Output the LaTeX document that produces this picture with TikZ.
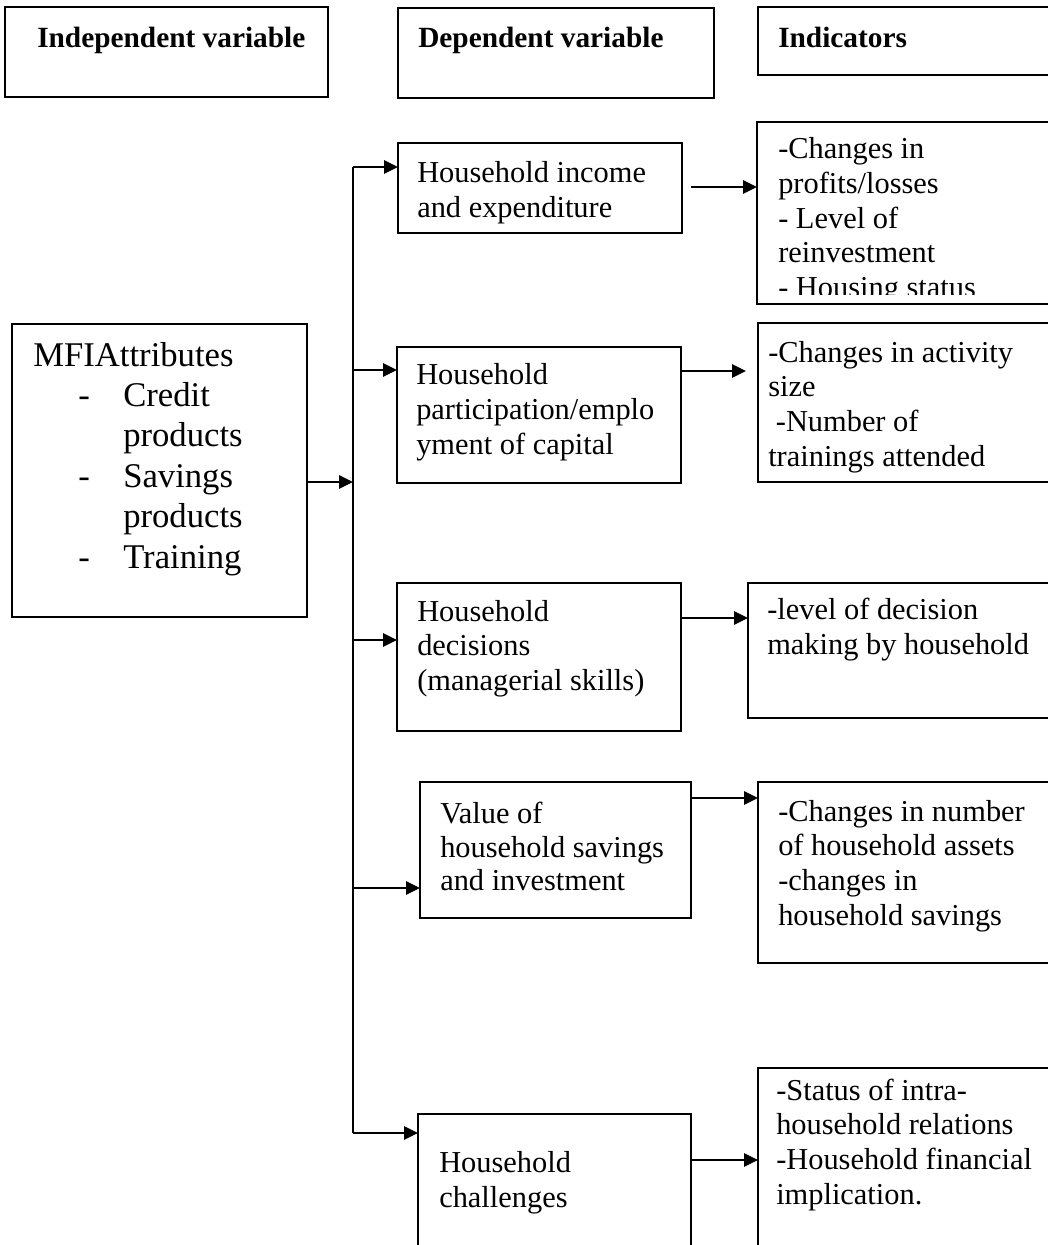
\documentclass[tikz,border=0pt]{standalone}
\usepackage{fontspec}
\setmainfont{Liberation Serif}
\usetikzlibrary{arrows.meta}
\newcommand{\px}{0.75pt}

\begin{document}
\begin{tikzpicture}[x=\px, y=-\px,
    box/.style={draw, line width=1.3pt, rectangle, anchor=north west, inner sep=0pt, outer sep=0pt},
    txt/.style={anchor=base west, align=left, inner sep=0pt, font=\fontsize{22.8}{26}\selectfont},
    hdr/.style={txt, font=\fontsize{22}{26}\selectfont\bfseries},
    big/.style={anchor=base west, align=left, inner sep=0pt, font=\fontsize{26}{30.3}\selectfont},
    arr/.style={line width=1.3pt, -{Triangle[length=10.5pt, width=10pt]}}]
    \useasboundingbox (0,0) rectangle (1048,1245);
    \clip (0,0) rectangle (1048,1245);

    % Header row
    \node[box, minimum width=323*\px, minimum height=90*\px] (hdr-indep) at (5,7) {};
    \node[hdr] (hdr-indep-t) at (37,48) {Independent variable};
    \node[box, minimum width=316*\px, minimum height=90*\px] (hdr-dep) at (398,8) {};
    \node[hdr] (hdr-dep-t) at (418,48) {Dependent variable};
    \node[box, minimum width=302*\px, minimum height=68*\px] (hdr-ind) at (758,7) {};
    \node[hdr] (hdr-ind-t) at (778,48) {Indicators};

    % Independent variable (text placed at its last baseline)
    \node[box, minimum width=295*\px, minimum height=293*\px] (mfi) at (12,324) {};
    \node[big] (mfi-t) at (33,568) {MFIAttributes\\
        \hspace*{33.75pt}\makebox[33.75pt][l]{-}Credit\\
        \hspace*{67.5pt}products\\
        \hspace*{33.75pt}\makebox[33.75pt][l]{-}Savings\\
        \hspace*{67.5pt}products\\
        \hspace*{33.75pt}\makebox[33.75pt][l]{-}Training};

    % Dependent variables
    \node[box, minimum width=284*\px, minimum height=90*\px] (dv1) at (398,143) {};
    \node[txt] (dv1-t) at (417,217.5) {Household income\\and expenditure};
    \node[box, minimum width=284*\px, minimum height=136*\px] (dv2) at (397,347) {};
    \node[txt] (dv2-t) at (416,454) {Household\\participation/emplo\\yment of capital};
    \node[box, minimum width=284*\px, minimum height=148*\px] (dv3) at (397,583) {};
    \node[txt] (dv3-t) at (417,690.5) {Household\\decisions\\(managerial skills)};
    \node[box, minimum width=271*\px, minimum height=136*\px] (dv4) at (420,782) {};
    \node[txt, font=\fontsize{22.8}{25}\selectfont] (dv4-t) at (440,890.5) {Value of\\household savings\\and investment};
    \node[box, minimum width=273*\px, minimum height=160*\px] (dv5) at (418,1114) {};
    \node[txt] (dv5-t) at (439,1207) {Household\\challenges};

    % Indicators
    \node[box, minimum width=303*\px, minimum height=182*\px] (ind1) at (757,122) {};
    \begin{scope}
        \clip (ind1.north west) rectangle ([yshift=7pt]ind1.south east);
        \node[txt] (ind1-t) at (778,297.5) {-Changes in\\profits/losses\\- Level of\\reinvestment\\- Housing status};
    \end{scope}
    \node[box, minimum width=302*\px, minimum height=159*\px] (ind2) at (758,323) {};
    \node[txt] (ind2-t) at (768,466) {-Changes in activity\\size\\\hspace*{0.25em}-Number of\\trainings attended};
    \node[box, minimum width=312*\px, minimum height=135*\px] (ind3) at (748,583) {};
    \node[txt] (ind3-t) at (767,654) {-level of decision\\making by household};
    \node[box, minimum width=302*\px, minimum height=181*\px] (ind4) at (758,782) {};
    \node[txt] (ind4-t) at (778,925) {-Changes in number\\of household assets\\-changes in\\household savings};
    \node[box, minimum width=302*\px, minimum height=200*\px] (ind5) at (758,1068) {};
    \node[txt] (ind5-t) at (776,1204) {-Status of intra-\\household relations\\-Household financial\\implication.};

    % Trunk and arrows
    \coordinate (trunk-top) at (353,167);
    \coordinate (trunk-in) at (353,482);
    \coordinate (fork2) at (353,370);
    \coordinate (fork3) at (353,640);
    \coordinate (fork4) at (353,888);
    \coordinate (trunk-end) at (353,1133);
    \draw[line width=1.3pt] (trunk-top) -- (trunk-end);
    \draw[arr] (mfi.east |- trunk-in) -- (trunk-in);
    \draw[arr] (trunk-top) -- (trunk-top -| dv1.west);
    \draw[arr] (fork2) -- (fork2 -| dv2.west);
    \draw[arr] (fork3) -- (fork3 -| dv3.west);
    \draw[arr] (fork4) -- (fork4 -| dv4.west);
    \draw[arr] (trunk-end) -- (trunk-end -| dv5.west);

    \coordinate (out1) at (691,187);
    \coordinate (out2) at (681,371);
    \coordinate (out3) at (681,618);
    \coordinate (out4) at (691,798);
    \coordinate (out5) at (691,1160);
    \draw[arr] (out1) -- (out1 -| ind1.west);
    \draw[arr, shorten >=9pt] (out2) -- (out2 -| ind2.west);
    \draw[arr] (out3) -- (out3 -| ind3.west);
    \draw[arr] (out4) -- (out4 -| ind4.west);
    \draw[arr] (out5) -- (out5 -| ind5.west);
\end{tikzpicture}
\end{document}
